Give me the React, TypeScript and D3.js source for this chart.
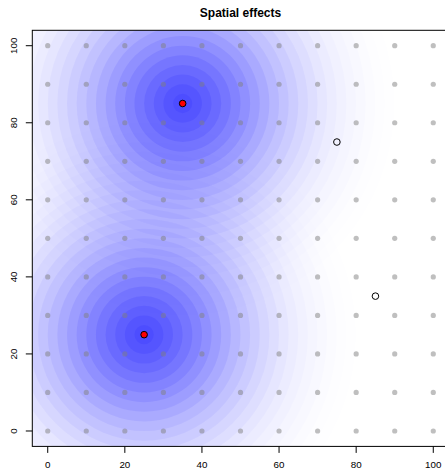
import React from "react";
import * as d3 from "d3";

// Grid of sampling sites
const gridX = [0, 10, 20, 30, 40, 50, 60, 70, 80, 90, 100];
const gridY = [0, 10, 20, 30, 40, 50, 60, 70, 80, 90, 100];

// Effect sources (filled red) and unaffected sites (open)
const sourceX = [35, 25];
const sourceY = [85, 25];
const siteX = [75, 85];
const siteY = [75, 35];

// Radii of the concentric effect rings (data units) and the red-channel
// level each ring band should reach once stacked.
const ringRadius = [
  2.5, 5, 7.5, 10, 12.5, 15, 17.5, 20, 22.5, 25, 27.5,
  30, 32.5, 35, 37.5, 40, 42.5, 45, 47.5, 50, 52.5, 55,
];
const ringLevel = [
  80, 88, 98, 109, 121, 134, 147, 160, 173, 185, 196,
  206, 215, 223, 230, 236, 241, 245, 248, 251, 253, 254,
];

const xTicks = [0, 20, 40, 60, 80, 100];
const yTicks = [0, 20, 40, 60, 80, 100];

const W = 445;
const H = 469;
const left = 32.3;
const right = 448.7;
const top = 30.3;
const bottom = 446.4;

export default function App() {
  const x = d3.scaleLinear().domain([-4, 104]).range([left, right]);
  const y = d3.scaleLinear().domain([-4, 104]).range([bottom, top]);
  const unit = x(1) - x(0);

  // opacity of each ring so that stacked rings reach ringLevel
  const ringAlpha = ringLevel.map((lv, i) => {
    const wIn = lv / 255;
    const wOut = i + 1 < ringLevel.length ? ringLevel[i + 1] / 255 : 1;
    return 1 - wIn / wOut;
  });

  const grid: [number, number][] = [];
  gridY.forEach((gy) => gridX.forEach((gx) => grid.push([gx, gy])));

  const font = "'Liberation Sans', Arial, Helvetica, sans-serif";

  return (
    <svg
      width={W}
      height={H}
      style={{ position: "absolute", left: 0, top: 0, background: "#fff" }}
    >
      <defs>
        <clipPath id="plotArea">
          <rect x={left} y={top} width={right - left} height={bottom - top} />
        </clipPath>
      </defs>
      <g clipPath="url(#plotArea)">
        {sourceX.map((sx, s) =>
          ringRadius
            .map((r, i) => (
              <circle
                key={`r${s}-${i}`}
                cx={x(sx)}
                cy={y(sourceY[s])}
                r={r * unit}
                fill="rgb(0,0,255)"
                fillOpacity={ringAlpha[i]}
              />
            ))
            .reverse()
        )}
      </g>
      {grid.map(([gx, gy], i) => (
        <circle
          key={`g${i}`}
          cx={x(gx)}
          cy={y(gy)}
          r={2.6}
          fill="#808080"
          fillOpacity={0.5}
        />
      ))}
      {siteX.map((sx, i) => (
        <circle
          key={`o${i}`}
          cx={x(sx)}
          cy={y(siteY[i])}
          r={3.3}
          fill="none"
          stroke="#000"
          strokeWidth={1}
        />
      ))}
      {sourceX.map((sx, i) => (
        <circle
          key={`s${i}`}
          cx={x(sx)}
          cy={y(sourceY[i])}
          r={3.3}
          fill="#ff0000"
          stroke="#000"
          strokeWidth={1}
        />
      ))}
      <rect
        x={left}
        y={top}
        width={right - left}
        height={bottom - top}
        fill="none"
        stroke="#000"
        strokeWidth={1}
      />
      {xTicks.map((t) => (
        <g key={`xt${t}`}>
          <line x1={x(t)} x2={x(t)} y1={bottom} y2={bottom + 6.5} stroke="#000" />
          <text
            x={x(t)}
            y={468}
            textAnchor="middle"
            fontFamily={font}
            fontSize={9.8}
          >
            {t}
          </text>
        </g>
      ))}
      {yTicks.map((t) => (
        <g key={`yt${t}`}>
          <line x1={left} x2={left - 6.5} y1={y(t)} y2={y(t)} stroke="#000" />
          <text
            transform={`translate(16.7,${y(t)}) rotate(-90)`}
            textAnchor="middle"
            fontFamily={font}
            fontSize={9.8}
          >
            {t}
          </text>
        </g>
      ))}
      <text
        x={(left + right) / 2}
        y={16.5}
        textAnchor="middle"
        fontFamily={font}
        fontSize={12}
        fontWeight="bold"
      >
        Spatial effects
      </text>
    </svg>
  );
}
